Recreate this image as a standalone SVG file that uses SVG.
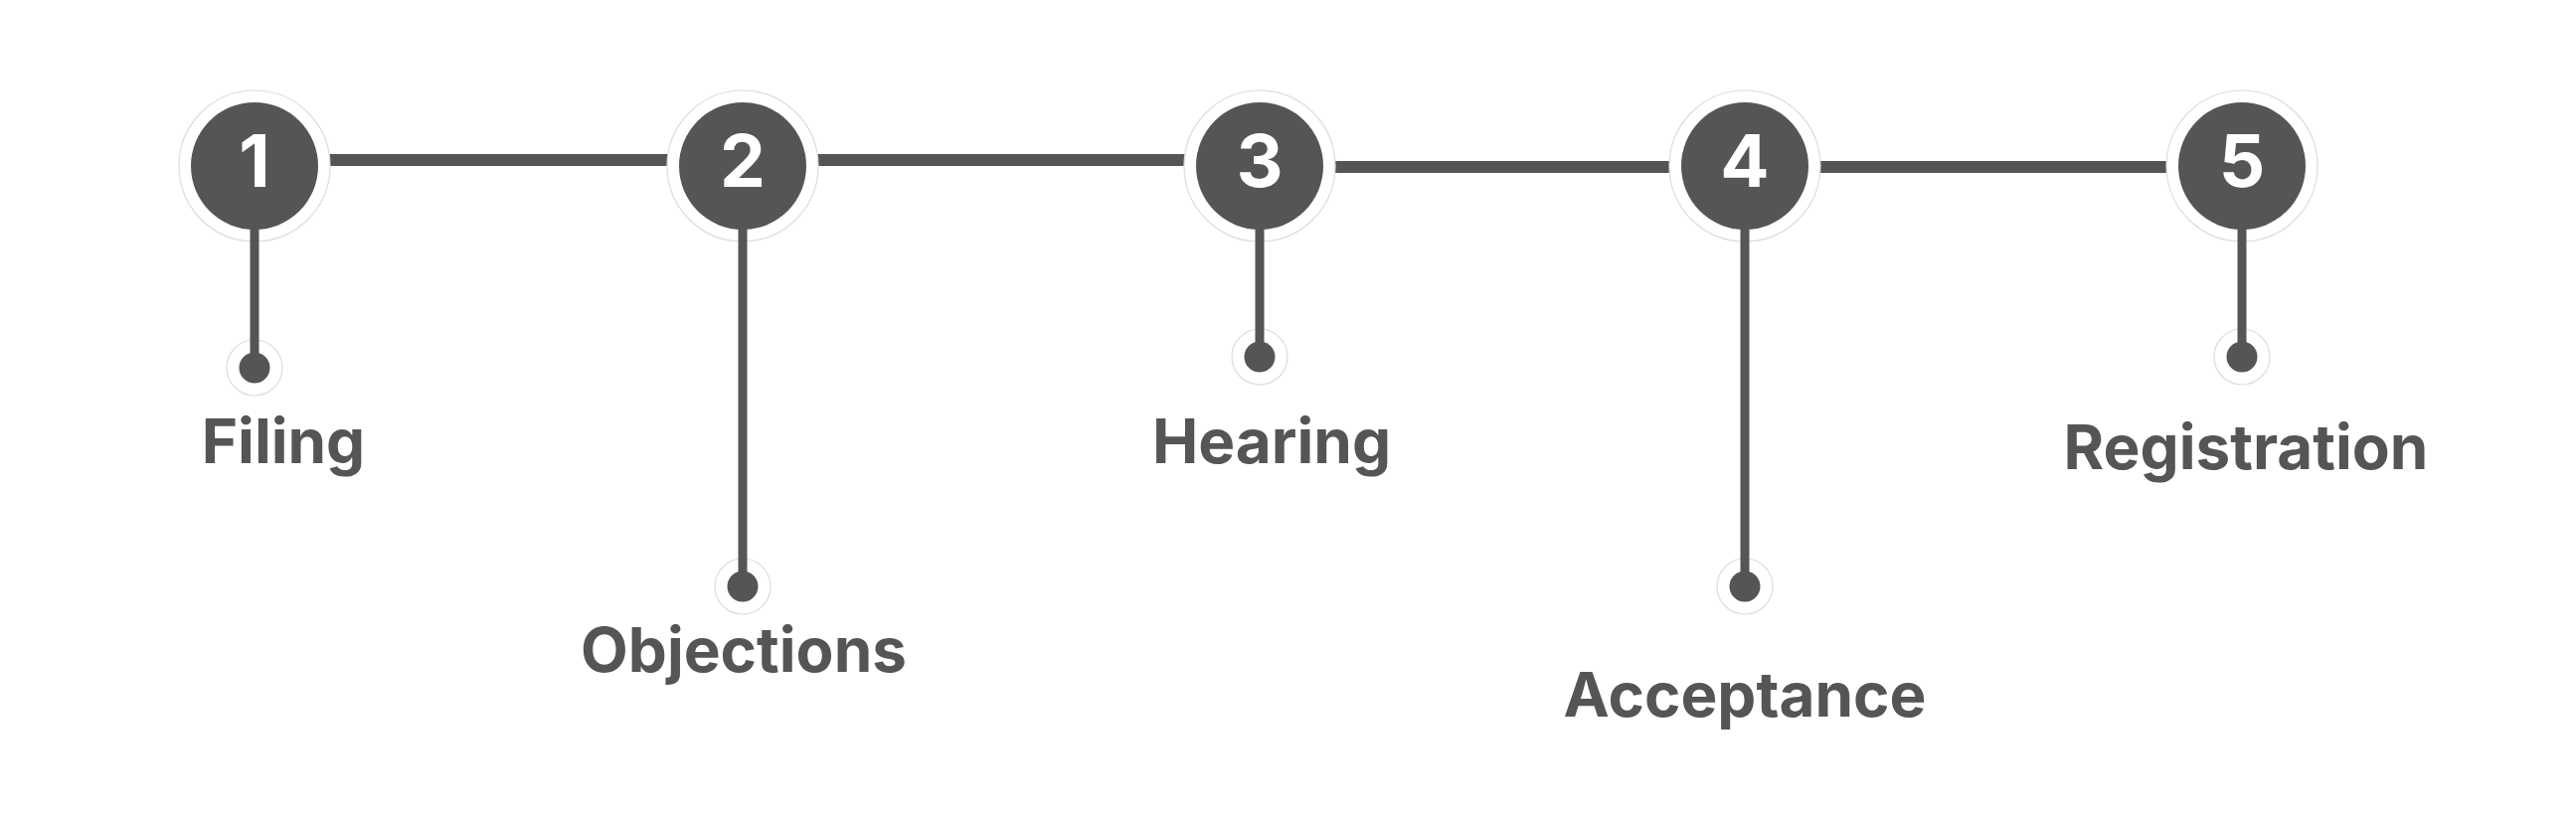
<svg xmlns="http://www.w3.org/2000/svg" width="2591" height="819" viewBox="0 0 2591 819">
<style>
.bg{fill:#ffffff}
.edge{stroke:#555555;stroke-width:12;fill:none}
.stem{stroke:#555555;stroke-width:9;fill:none}
.halo{fill:#ffffff;stroke:#dcdcdc;stroke-width:1.2}
.core{fill:#555555}
.num{font-family:Inter,"Liberation Sans",sans-serif;font-weight:700;font-size:73px;fill:#ffffff;text-anchor:middle}
.lbl{font-family:Inter,"Liberation Sans",sans-serif;font-weight:700;font-size:62px;fill:#555555;text-anchor:middle}
</style>
<rect class="bg" x="0" y="0" width="2591" height="819"/>
<g id="connectors">
<line class="edge" x1="256" y1="161" x2="747" y2="161"/>
<line class="edge" x1="747" y1="161" x2="1267" y2="161"/>
<line class="edge" x1="1267" y1="168" x2="1755" y2="168"/>
<line class="edge" x1="1755" y1="168" x2="2255" y2="168"/>
</g>
<g id="node1">
<circle class="halo" cx="256" cy="167" r="76"/>
<circle class="halo" cx="256" cy="370" r="28"/>
<line class="stem" x1="256" y1="200" x2="256" y2="370"/>
<circle class="core" cx="256" cy="167" r="64"/>
<circle class="core" cx="256" cy="370" r="15.5"/>
<text class="num" x="256" y="188">1</text>
<text class="lbl" x="285" y="466">Filing</text>
</g>
<g id="node2">
<circle class="halo" cx="747" cy="167" r="76"/>
<circle class="halo" cx="747" cy="590" r="28"/>
<line class="stem" x1="747" y1="200" x2="747" y2="590"/>
<circle class="core" cx="747" cy="167" r="64"/>
<circle class="core" cx="747" cy="590" r="15.5"/>
<text class="num" x="747" y="188">2</text>
<text class="lbl" x="748" y="676">Objections</text>
</g>
<g id="node3">
<circle class="halo" cx="1267" cy="167" r="76"/>
<circle class="halo" cx="1267" cy="359" r="28"/>
<line class="stem" x1="1267" y1="200" x2="1267" y2="359"/>
<circle class="core" cx="1267" cy="167" r="64"/>
<circle class="core" cx="1267" cy="359" r="15.5"/>
<text class="num" x="1267" y="188">3</text>
<text class="lbl" x="1279" y="466">Hearing</text>
</g>
<g id="node4">
<circle class="halo" cx="1755" cy="167" r="76"/>
<circle class="halo" cx="1755" cy="590" r="28"/>
<line class="stem" x1="1755" y1="200" x2="1755" y2="590"/>
<circle class="core" cx="1755" cy="167" r="64"/>
<circle class="core" cx="1755" cy="590" r="15.5"/>
<text class="num" x="1755" y="188">4</text>
<text class="lbl" x="1755" y="721">Acceptance</text>
</g>
<g id="node5">
<circle class="halo" cx="2255" cy="167" r="76"/>
<circle class="halo" cx="2255" cy="359" r="28"/>
<line class="stem" x1="2255" y1="200" x2="2255" y2="359"/>
<circle class="core" cx="2255" cy="167" r="64"/>
<circle class="core" cx="2255" cy="359" r="15.5"/>
<text class="num" x="2255" y="188">5</text>
<text class="lbl" x="2259" y="472">Registration</text>
</g>
</svg>
